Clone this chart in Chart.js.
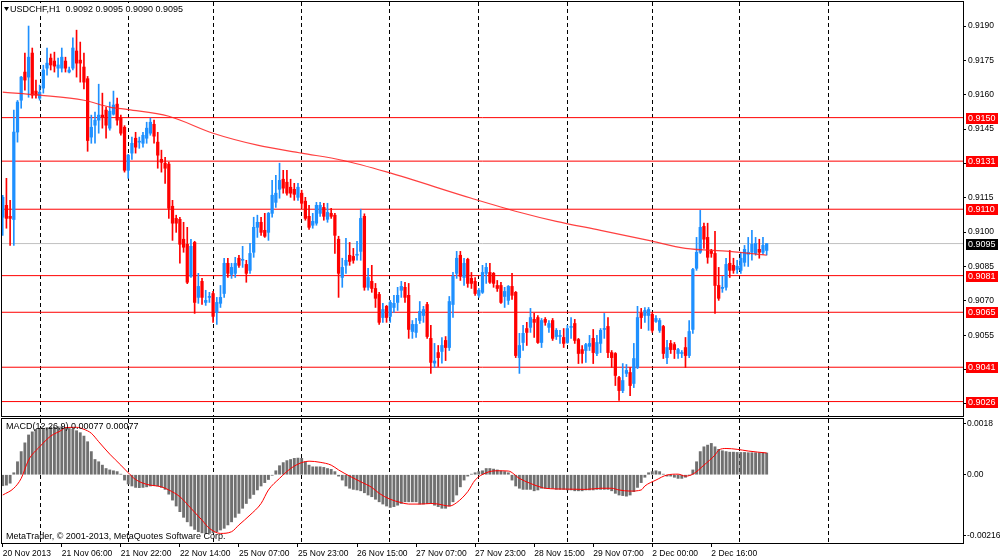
<!DOCTYPE html>
<html>
<head>
<meta charset="utf-8">
<title>USDCHF,H1</title>
<script src="https://cdn.jsdelivr.net/npm/chart.js@4.4.1/dist/chart.umd.min.js"></script>
<style>
  html, body { margin: 0; padding: 0; background: #fff; }
  #wrap { position: relative; width: 1000px; height: 560px; overflow: hidden; background: #fff; }
  canvas { position: absolute; left: 0; }
</style>
</head>
<body>
<div id="wrap">
  <canvas id="priceChart" width="1000" height="417" style="top:0"></canvas>
  <canvas id="macdChart" width="1000" height="143" style="top:417px"></canvas>
</div>
<script>
"use strict";
// time axis: one label every 16 hourly bars
const tickLabels = ["20 Nov 2013", "21 Nov 06:00", "21 Nov 22:00", "22 Nov 14:00", "25 Nov 07:00",
    "25 Nov 23:00", "26 Nov 15:00", "27 Nov 07:00", "27 Nov 23:00", "28 Nov 15:00",
    "29 Nov 07:00", "2 Dec 00:00", "2 Dec 16:00"];
const tickBars = [0, 16, 32, 48, 64, 80, 96, 112, 128, 144, 160, 176, 192];
const gridBars = [10.1, 34, 57, 80.8, 104.7, 128.8, 152.9, 176, 199.6, 223.7];
const priceTicks = [0.9190, 0.9175, 0.9160, 0.9145, 0.9130, 0.9115, 0.9100, 0.9085, 0.9070, 0.9055, 0.9040, 0.9025];
const levels = [0.9150, 0.9131, 0.9110, 0.9081, 0.9065, 0.9041, 0.9026];
const lastPrice = 0.9095;

// H1 candles, bar 0 .. 207
const openP = [
    0.91065, 0.91117, 0.91069, 0.91055, 0.91437, 0.91576, 0.91699, 0.91677, 0.91782, 0.91616,
    0.91585, 0.91629, 0.91716, 0.91760, 0.91747, 0.91716, 0.91716, 0.91747, 0.91699, 0.91716,
    0.91791, 0.91751, 0.91721, 0.91670, 0.91415, 0.91467, 0.91489, 0.91511, 0.91533, 0.91454,
    0.91515, 0.91559, 0.91498, 0.91458, 0.91270, 0.91345, 0.91410, 0.91393, 0.91388, 0.91410,
    0.91432, 0.91471, 0.91393, 0.91318, 0.91301, 0.91297, 0.91113, 0.91060, 0.91056, 0.90969,
    0.90947, 0.90807, 0.90955, 0.90715, 0.90785, 0.90693, 0.90715, 0.90732, 0.90649, 0.90689,
    0.90732, 0.90864, 0.90815, 0.90820, 0.90886, 0.90877, 0.90859, 0.90833, 0.90912, 0.91021,
    0.91043, 0.91008, 0.90999, 0.91082, 0.91130, 0.91187, 0.91231, 0.91218, 0.91196, 0.91187,
    0.91152, 0.91170, 0.91135, 0.91069, 0.91030, 0.91039, 0.91082, 0.91108, 0.91056, 0.91082,
    0.91074, 0.90969, 0.90802, 0.90855, 0.90899, 0.90894, 0.90899, 0.90916, 0.91069, 0.90759,
    0.90785, 0.90754, 0.90728, 0.90627, 0.90676, 0.90632, 0.90671, 0.90693, 0.90746, 0.90759,
    0.90724, 0.90566, 0.90562, 0.90614, 0.90636, 0.90684, 0.90536, 0.90428, 0.90474, 0.90479,
    0.90527, 0.90496, 0.90684, 0.90820, 0.90899, 0.90802, 0.90881, 0.90798, 0.90785, 0.90724,
    0.90737, 0.90820, 0.90824, 0.90820, 0.90767, 0.90767, 0.90719, 0.90702, 0.90763, 0.90737,
    0.90452, 0.90518, 0.90579, 0.90584, 0.90619, 0.90627, 0.90518, 0.90619, 0.90584, 0.90614,
    0.90544, 0.90544, 0.90540, 0.90518, 0.90584, 0.90601, 0.90531, 0.90487, 0.90483, 0.90501,
    0.90536, 0.90470, 0.90514, 0.90575, 0.90588, 0.90474, 0.90470, 0.90365, 0.90308, 0.90383,
    0.90387, 0.90339, 0.90409, 0.90645, 0.90636, 0.90636, 0.90641, 0.90610, 0.90571, 0.90588,
    0.90452, 0.90514, 0.90509, 0.90470, 0.90470, 0.90496, 0.90461, 0.90575, 0.90842, 0.90912,
    0.91025, 0.90977, 0.90916, 0.90907, 0.90767, 0.90754, 0.90759, 0.90864, 0.90855, 0.90837,
    0.90833, 0.90868, 0.90903, 0.90912, 0.90907, 0.90925, 0.90912, 0.90920
];
const highP = [
    0.91161, 0.91235, 0.91139, 0.91533, 0.91575, 0.91680, 0.91782, 0.91900, 0.91804, 0.91664,
    0.91642, 0.91729, 0.91804, 0.91778, 0.91786, 0.91760, 0.91804, 0.91764, 0.91721, 0.91848,
    0.91882, 0.91830, 0.91782, 0.91680, 0.91511, 0.91524, 0.91646, 0.91607, 0.91546, 0.91568,
    0.91616, 0.91585, 0.91511, 0.91465, 0.91340, 0.91415, 0.91436, 0.91415, 0.91436, 0.91480,
    0.91498, 0.91489, 0.91436, 0.91358, 0.91327, 0.91305, 0.91139, 0.91074, 0.91065, 0.91043,
    0.91021, 0.90969, 0.90960, 0.90820, 0.90798, 0.90746, 0.90737, 0.90741, 0.90715, 0.90767,
    0.90886, 0.90886, 0.90864, 0.90890, 0.90899, 0.90938, 0.90877, 0.90951, 0.91065, 0.91074,
    0.91065, 0.91082, 0.91086, 0.91226, 0.91248, 0.91301, 0.91270, 0.91270, 0.91231, 0.91213,
    0.91213, 0.91183, 0.91152, 0.91117, 0.91082, 0.91130, 0.91130, 0.91126, 0.91126, 0.91104,
    0.91082, 0.90982, 0.90886, 0.90973, 0.90955, 0.90929, 0.90960, 0.91100, 0.91080, 0.90842,
    0.90855, 0.90776, 0.90737, 0.90689, 0.90680, 0.90702, 0.90724, 0.90759, 0.90785, 0.90781,
    0.90776, 0.90614, 0.90623, 0.90697, 0.90676, 0.90693, 0.90593, 0.90514, 0.90505, 0.90540,
    0.90544, 0.90719, 0.90824, 0.90916, 0.90916, 0.90886, 0.90886, 0.90824, 0.90802, 0.90754,
    0.90855, 0.90864, 0.90864, 0.90824, 0.90789, 0.90781, 0.90759, 0.90767, 0.90820, 0.90741,
    0.90558, 0.90593, 0.90606, 0.90667, 0.90645, 0.90636, 0.90623, 0.90627, 0.90614, 0.90623,
    0.90579, 0.90571, 0.90579, 0.90593, 0.90627, 0.90619, 0.90536, 0.90505, 0.90514, 0.90549,
    0.90575, 0.90549, 0.90579, 0.90645, 0.90627, 0.90483, 0.90474, 0.90370, 0.90426, 0.90422,
    0.90409, 0.90514, 0.90676, 0.90667, 0.90671, 0.90671, 0.90649, 0.90636, 0.90623, 0.90593,
    0.90527, 0.90527, 0.90518, 0.90492, 0.90483, 0.90540, 0.90614, 0.90842, 0.90977, 0.91095,
    0.91039, 0.91039, 0.90925, 0.91003, 0.90846, 0.90807, 0.90886, 0.90920, 0.90886, 0.90877,
    0.90912, 0.90942, 0.90977, 0.91008, 0.90977, 0.90969, 0.90977, 0.90950
];
const lowP = [
    0.90986, 0.91017, 0.90942, 0.90942, 0.91393, 0.91541, 0.91620, 0.91589, 0.91585, 0.91585,
    0.91576, 0.91607, 0.91686, 0.91708, 0.91699, 0.91677, 0.91699, 0.91699, 0.91695, 0.91708,
    0.91677, 0.91655, 0.91625, 0.91353, 0.91388, 0.91388, 0.91432, 0.91454, 0.91410, 0.91445,
    0.91511, 0.91467, 0.91423, 0.91262, 0.91235, 0.91318, 0.91345, 0.91366, 0.91371, 0.91388,
    0.91423, 0.91388, 0.91279, 0.91262, 0.91213, 0.91060, 0.90964, 0.90999, 0.90864, 0.90912,
    0.90775, 0.90802, 0.90645, 0.90689, 0.90684, 0.90680, 0.90693, 0.90606, 0.90597, 0.90671,
    0.90715, 0.90802, 0.90798, 0.90802, 0.90846, 0.90846, 0.90781, 0.90820, 0.90890, 0.90977,
    0.90986, 0.90977, 0.90964, 0.91065, 0.91108, 0.91148, 0.91170, 0.91161, 0.91152, 0.91139,
    0.91139, 0.91104, 0.91052, 0.91012, 0.91017, 0.91030, 0.91069, 0.91052, 0.91043, 0.91060,
    0.90907, 0.90715, 0.90759, 0.90820, 0.90855, 0.90864, 0.90877, 0.90877, 0.90746, 0.90746,
    0.90737, 0.90671, 0.90597, 0.90606, 0.90606, 0.90606, 0.90649, 0.90658, 0.90715, 0.90693,
    0.90536, 0.90536, 0.90540, 0.90601, 0.90606, 0.90536, 0.90383, 0.90409, 0.90413, 0.90428,
    0.90439, 0.90483, 0.90627, 0.90798, 0.90789, 0.90767, 0.90759, 0.90754, 0.90724, 0.90715,
    0.90732, 0.90776, 0.90776, 0.90759, 0.90741, 0.90689, 0.90671, 0.90684, 0.90706, 0.90452,
    0.90383, 0.90483, 0.90505, 0.90562, 0.90540, 0.90514, 0.90496, 0.90593, 0.90562, 0.90527,
    0.90531, 0.90514, 0.90496, 0.90514, 0.90536, 0.90514, 0.90426, 0.90428, 0.90431, 0.90483,
    0.90426, 0.90461, 0.90474, 0.90536, 0.90452, 0.90409, 0.90330, 0.90265, 0.90299, 0.90369,
    0.90286, 0.90321, 0.90404, 0.90579, 0.90606, 0.90571, 0.90562, 0.90606, 0.90562, 0.90448,
    0.90426, 0.90470, 0.90448, 0.90448, 0.90452, 0.90409, 0.90452, 0.90558, 0.90833, 0.90907,
    0.90929, 0.90864, 0.90890, 0.90645, 0.90702, 0.90737, 0.90746, 0.90802, 0.90820, 0.90820,
    0.90820, 0.90851, 0.90850, 0.90877, 0.90899, 0.90886, 0.90903, 0.90900
];
const closeP = [
    0.91152, 0.91060, 0.91060, 0.91437, 0.91568, 0.91677, 0.91664, 0.91764, 0.91598, 0.91598,
    0.91611, 0.91708, 0.91738, 0.91730, 0.91725, 0.91730, 0.91764, 0.91716, 0.91708, 0.91804,
    0.91738, 0.91738, 0.91655, 0.91400, 0.91458, 0.91489, 0.91511, 0.91502, 0.91467, 0.91528,
    0.91555, 0.91489, 0.91432, 0.91270, 0.91336, 0.91388, 0.91371, 0.91397, 0.91423, 0.91454,
    0.91480, 0.91419, 0.91336, 0.91305, 0.91279, 0.91104, 0.91039, 0.91039, 0.90947, 0.90934,
    0.90781, 0.90938, 0.90693, 0.90763, 0.90715, 0.90702, 0.90719, 0.90632, 0.90693, 0.90715,
    0.90864, 0.90820, 0.90846, 0.90864, 0.90855, 0.90881, 0.90820, 0.90907, 0.91021, 0.91043,
    0.90999, 0.90982, 0.91082, 0.91161, 0.91170, 0.91226, 0.91192, 0.91170, 0.91170, 0.91165,
    0.91196, 0.91126, 0.91060, 0.91021, 0.91047, 0.91117, 0.91117, 0.91069, 0.91086, 0.91069,
    0.90986, 0.90820, 0.90846, 0.90877, 0.90872, 0.90877, 0.90903, 0.91060, 0.90759, 0.90802,
    0.90754, 0.90711, 0.90606, 0.90662, 0.90627, 0.90693, 0.90689, 0.90724, 0.90763, 0.90715,
    0.90575, 0.90597, 0.90597, 0.90654, 0.90662, 0.90544, 0.90431, 0.90437, 0.90452, 0.90505,
    0.90496, 0.90697, 0.90807, 0.90886, 0.90807, 0.90864, 0.90776, 0.90776, 0.90732, 0.90746,
    0.90824, 0.90846, 0.90781, 0.90776, 0.90754, 0.90693, 0.90741, 0.90763, 0.90724, 0.90461,
    0.90505, 0.90558, 0.90562, 0.90627, 0.90606, 0.90518, 0.90614, 0.90606, 0.90601, 0.90536,
    0.90571, 0.90549, 0.90514, 0.90579, 0.90588, 0.90527, 0.90470, 0.90470, 0.90509, 0.90514,
    0.90474, 0.90518, 0.90571, 0.90579, 0.90474, 0.90452, 0.90374, 0.90308, 0.90352, 0.90396,
    0.90330, 0.90448, 0.90627, 0.90627, 0.90658, 0.90662, 0.90571, 0.90623, 0.90614, 0.90470,
    0.90496, 0.90487, 0.90487, 0.90487, 0.90474, 0.90461, 0.90566, 0.90837, 0.90912, 0.91021,
    0.90969, 0.90890, 0.90907, 0.90767, 0.90711, 0.90759, 0.90859, 0.90833, 0.90833, 0.90851,
    0.90886, 0.90925, 0.90912, 0.90947, 0.90951, 0.90912, 0.90942, 0.90950
];

// moving average read at a few bars
const maBars = [0, 10, 22, 29, 34, 45, 57, 69, 81, 92, 104, 127, 140, 150, 162, 175, 185, 197, 207];
const maValues = [0.91611, 0.91598, 0.91576, 0.91546, 0.91535, 0.91506, 0.91432, 0.91380, 0.91345, 0.91314,
    0.91263, 0.91148, 0.91087, 0.91047, 0.91008, 0.90964, 0.90929, 0.90916, 0.90899];

// MACD(12,26,9) histogram, one per bar
const macdHist = [
    -0.00039, -0.00037, -0.00030, 0.00007, 0.00046, 0.00082, 0.00113, 0.00141, 0.00152, 0.00161,
    0.00164, 0.00164, 0.00167, 0.00168, 0.00168, 0.00170, 0.00170, 0.00168, 0.00164, 0.00161,
    0.00156, 0.00149, 0.00137, 0.00117, 0.00082, 0.00054, 0.00046, 0.00034, 0.00022, 0.00017,
    0.00014, 0.00011, 0.00002, -0.00019, -0.00033, -0.00040, -0.00045, -0.00046, -0.00045, -0.00043,
    -0.00040, -0.00039, -0.00040, -0.00045, -0.00052, -0.00069, -0.00090, -0.00111, -0.00131, -0.00151,
    -0.00167, -0.00182, -0.00194, -0.00202, -0.00206, -0.00208, -0.00208, -0.00206, -0.00202, -0.00196,
    -0.00190, -0.00178, -0.00167, -0.00151, -0.00137, -0.00119, -0.00102, -0.00084, -0.00070, -0.00054,
    -0.00040, -0.00028, -0.00017, -0.00002, 0.00014, 0.00032, 0.00043, 0.00050, 0.00054, 0.00058,
    0.00059, 0.00058, 0.00046, 0.00034, 0.00028, 0.00028, 0.00028, 0.00026, 0.00022, 0.00019,
    0.00011, -0.00005, -0.00019, -0.00040, -0.00048, -0.00052, -0.00054, -0.00057, -0.00064, -0.00072,
    -0.00078, -0.00087, -0.00096, -0.00104, -0.00111, -0.00116, -0.00113, -0.00108, -0.00102, -0.00096,
    -0.00096, -0.00096, -0.00096, -0.00104, -0.00104, -0.00102, -0.00102, -0.00108, -0.00113, -0.00119,
    -0.00119, -0.00111, -0.00096, -0.00072, -0.00043, -0.00019, -0.00005, 0.00002, 0.00007, 0.00011,
    0.00014, 0.00022, 0.00022, 0.00020, 0.00017, 0.00013, 0.00011, 0.00007, -0.00019, -0.00040,
    -0.00048, -0.00052, -0.00052, -0.00052, -0.00057, -0.00054, -0.00048, -0.00048, -0.00048, -0.00048,
    -0.00052, -0.00052, -0.00052, -0.00054, -0.00054, -0.00057, -0.00057, -0.00057, -0.00054, -0.00054,
    -0.00054, -0.00052, -0.00052, -0.00052, -0.00052, -0.00057, -0.00066, -0.00072, -0.00074, -0.00076,
    -0.00072, -0.00060, -0.00045, -0.00028, -0.00009, 0.00007, 0.00011, 0.00014, 0.00011, 0.00002,
    -0.00005, -0.00005, -0.00009, -0.00013, -0.00013, -0.00009, -0.00001, 0.00017, 0.00046, 0.00082,
    0.00099, 0.00105, 0.00111, 0.00099, 0.00090, 0.00085, 0.00082, 0.00080, 0.00080, 0.00079,
    0.00079, 0.00079, 0.00078, 0.00078, 0.00078, 0.00078, 0.00078, 0.00077
];
// signal line read at a few bars
const signalBars = [0, 3, 5, 7, 10, 13, 16, 17, 20, 22, 24, 26, 29, 32, 34, 36, 39, 43, 45, 48,
    51, 54, 56, 59, 62, 64, 67, 70, 72, 75, 78, 81, 83, 86, 89, 91, 94, 97, 100, 102,
    105, 108, 110, 113, 116, 118, 121, 123, 126, 128, 131, 134, 137, 140, 143, 146, 147, 153, 158, 162,
    165, 167, 170, 173, 174, 177, 180, 183, 185, 187, 190, 193, 194, 196, 199, 202, 207];
const signalValues = [-0.00072, -0.00048, -0.00013, 0.00052, 0.00099, 0.00137, 0.00158, 0.00167, 0.00168, 0.00161,
    0.00147, 0.00117, 0.00073, 0.00034, 0.00007, -0.00017, -0.00034, -0.00043, -0.00054, -0.00078,
    -0.00119, -0.00161, -0.00190, -0.00208, -0.00202, -0.00178, -0.00143, -0.00102, -0.00054, -0.00013,
    0.00022, 0.00043, 0.00048, 0.00044, 0.00034, 0.00017, -0.00005, -0.00025, -0.00045, -0.00066,
    -0.00087, -0.00099, -0.00104, -0.00104, -0.00102, -0.00104, -0.00111, -0.00099, -0.00060, -0.00019,
    0.00007, 0.00014, 0.00013, -0.00013, -0.00031, -0.00045, -0.00048, -0.00051, -0.00052, -0.00048,
    -0.00048, -0.00054, -0.00058, -0.00054, -0.00040, -0.00019, -0.00001, 0.00002, -0.00005, 0.00002,
    0.00034, 0.00070, 0.00087, 0.00093, 0.00090, 0.00084, 0.00077];
const macdTicks = [0.0018, 0, -0.00216];

const BULL = '#1e90ff';
const BEAR = '#ff0000';
const FONT = '"Liberation Sans", Arial, sans-serif';
const X_MIN = -0.2, X_MAX = 260.2;

function candleColor(ctx) {
    const i = ctx.dataIndex;
    return closeP[i] >= openP[i] ? BULL : BEAR;
}

// right axes: fixed width and no extra room for half labels
function fitRightAxis(s) {
    s.width = 37;
    s.paddingTop = 0;
    s.paddingBottom = 0;
}

function drawVerticalGrid(chart) {
    const { ctx, chartArea: a, scales: { x } } = chart;
    ctx.save();
    ctx.beginPath();
    ctx.rect(a.left, a.top, a.right - a.left, a.bottom - a.top);
    ctx.clip();
    ctx.strokeStyle = '#000';
    ctx.lineWidth = 1;
    ctx.setLineDash([4, 3]);
    gridBars.forEach(b => {
        const px = Math.round(x.getPixelForValue(b)) + 0.5;
        ctx.beginPath();
        ctx.moveTo(px, a.top);
        ctx.lineTo(px, a.bottom);
        ctx.stroke();
    });
    ctx.restore();
}

function drawFrame(chart) {
    const { ctx, chartArea: a } = chart;
    ctx.save();
    ctx.strokeStyle = '#000';
    ctx.lineWidth = 1;
    ctx.strokeRect(a.left - 0.5, a.top - 0.5, a.right - a.left + 1, a.bottom - a.top + 1);
    ctx.restore();
}

function priceBox(ctx, y, text, fill) {
    const yy = Math.round(y);
    ctx.fillStyle = fill;
    ctx.fillRect(966, yy - 5, 32, 11);
    ctx.fillStyle = '#fff';
    ctx.font = '9px ' + FONT;
    ctx.textBaseline = 'middle';
    ctx.textAlign = 'left';
    ctx.fillText(text, 968, yy + 0.5);
}

const whiteBg = {
    id: 'whiteBg',
    beforeDraw(chart) {
        const ctx = chart.ctx;
        ctx.save();
        ctx.fillStyle = '#fff';
        ctx.fillRect(0, 0, chart.width, chart.height);
        ctx.restore();
    }
};

const priceDecor = {
    id: 'priceDecor',
    beforeDatasetsDraw(chart) {
        const { ctx, chartArea: a, scales: { y } } = chart;
        drawVerticalGrid(chart);
        ctx.save();
        ctx.lineWidth = 1;
        ctx.strokeStyle = '#c0c0c0';
        let py = y.getPixelForValue(lastPrice);
        ctx.beginPath();
        ctx.moveTo(a.left, py);
        ctx.lineTo(a.right, py);
        ctx.stroke();
        ctx.strokeStyle = '#ff0000';
        levels.forEach(v => {
            py = y.getPixelForValue(v);
            ctx.beginPath();
            ctx.moveTo(a.left, py);
            ctx.lineTo(a.right, py);
            ctx.stroke();
        });
        ctx.restore();
    },
    afterDraw(chart) {
        const { ctx, scales: { y } } = chart;
        drawFrame(chart);
        ctx.save();
        levels.forEach(v => priceBox(ctx, y.getPixelForValue(v), v.toFixed(4), '#ff0000'));
        priceBox(ctx, y.getPixelForValue(lastPrice), lastPrice.toFixed(4), '#000');
        // symbol caption with the last bar's OHLC
        const n = openP.length - 1;
        ctx.fillStyle = '#fff';
        ctx.fillRect(3, 3, 182, 12);
        ctx.fillStyle = '#000';
        ctx.beginPath();
        ctx.moveTo(4, 7);
        ctx.lineTo(9, 7);
        ctx.lineTo(6.5, 11);
        ctx.closePath();
        ctx.fill();
        ctx.font = '9px ' + FONT;
        ctx.textBaseline = 'middle';
        ctx.textAlign = 'left';
        ctx.fillText('USDCHF,H1  ' + [openP[n], highP[n], lowP[n], closeP[n]].map(v => v.toFixed(4)).join(' '), 10, 9.5);
        ctx.restore();
    }
};

const macdDecor = {
    id: 'macdDecor',
    beforeDatasetsDraw(chart) {
        drawVerticalGrid(chart);
    },
    afterDraw(chart) {
        const ctx = chart.ctx;
        drawFrame(chart);
        ctx.save();
        ctx.fillStyle = '#000';
        ctx.font = '9px ' + FONT;
        ctx.textBaseline = 'middle';
        ctx.textAlign = 'left';
        const n = macdHist.length - 1;
        ctx.fillText('MACD(12,26,9) ' + macdHist[n].toFixed(5) + ' ' + signalValues[signalValues.length - 1].toFixed(5), 6, 9.5);
        ctx.fillText('MetaTrader, \u00a9 2001-2013, MetaQuotes Software Corp.', 6, 120);
        ctx.restore();
    }
};

const priceCanvas = document.getElementById('priceChart');
const priceChart = new Chart(priceCanvas, {
    type: 'bar',
    data: {
        datasets: [{
            type: 'line',
            label: 'MA',
            data: maBars.map((b, i) => ({ x: b, y: maValues[i] })),
            borderColor: 'rgba(255, 30, 30, 0.85)',
            borderWidth: 1.2,
            pointRadius: 0,
            cubicInterpolationMode: 'monotone',
            order: 0
        }, {
            label: 'body',
            data: openP.map((o, i) => ({ x: i, y: [o, closeP[i]] })),
            backgroundColor: candleColor,
            barThickness: 2.6,
            minBarLength: 1,
            grouped: false,
            order: 1
        }, {
            label: 'wick',
            data: lowP.map((l, i) => ({ x: i, y: [l, highP[i]] })),
            backgroundColor: candleColor,
            barThickness: 1,
            grouped: false,
            order: 2
        }]
    },
    options: {
        responsive: false,
        animation: false,
        events: [],
        layout: { padding: { left: 2, top: 2, right: 0, bottom: 1 } },
        plugins: { legend: { display: false }, tooltip: { enabled: false } },
        scales: {
            x: { type: 'linear', min: X_MIN, max: X_MAX, offset: false, display: false },
            y: {
                type: 'linear',
                position: 'right',
                min: 0.90197,
                max: 0.92005,
                afterFit: fitRightAxis,
                afterBuildTicks: s => { s.ticks = priceTicks.map(v => ({ value: v })); },
                ticks: {
                    callback: v => v.toFixed(4),
                    color: '#000',
                    font: { family: FONT, size: 8.5 },
                    padding: 2,
                    autoSkip: false
                },
                grid: { drawOnChartArea: false, drawTicks: true, tickLength: 3, color: '#000' },
                border: { display: false }
            }
        }
    },
    plugins: [whiteBg, priceDecor]
});

const macdCanvas = document.getElementById('macdChart');
const macdChart = new Chart(macdCanvas, {
    type: 'bar',
    data: {
        datasets: [{
            type: 'line',
            label: 'Signal',
            data: signalBars.map((b, i) => ({ x: b, y: signalValues[i] })),
            borderColor: '#ff0000',
            borderWidth: 1,
            pointRadius: 0,
            cubicInterpolationMode: 'monotone',
            order: 0
        }, {
            label: 'MACD',
            data: macdHist.map((v, i) => ({ x: i, y: v })),
            backgroundColor: '#707070',
            barThickness: 2.2,
            order: 1
        }]
    },
    options: {
        responsive: false,
        animation: false,
        events: [],
        layout: { padding: { left: 2, top: 2, right: 0, bottom: 0 } },
        plugins: { legend: { display: false }, tooltip: { enabled: false } },
        scales: {
            x: {
                type: 'linear',
                min: X_MIN,
                max: X_MAX,
                offset: false,
                position: 'bottom',
                afterFit: s => { s.height = 17; s.paddingLeft = 0; s.paddingRight = 0; },
                afterBuildTicks: s => { s.ticks = tickBars.map(v => ({ value: v })); },
                ticks: {
                    autoSkip: false,
                    maxRotation: 0,
                    align: 'start',
                    padding: 2,
                    color: '#000',
                    font: { family: FONT, size: 8.5 },
                    callback: (v, i) => tickLabels[i]
                },
                grid: { drawOnChartArea: false, drawTicks: true, tickLength: 4, color: '#000', offset: false },
                border: { display: false }
            },
            y: {
                type: 'linear',
                position: 'right',
                min: -0.00242,
                max: 0.001975,
                afterFit: fitRightAxis,
                afterBuildTicks: s => { s.ticks = macdTicks.map(v => ({ value: v })); },
                ticks: {
                    callback: v => (v === 0 ? '0.00' : String(v)),
                    color: '#000',
                    font: { family: FONT, size: 8.5 },
                    padding: 1,
                    autoSkip: false
                },
                grid: { drawOnChartArea: false, drawTicks: true, tickLength: 3, color: '#000' },
                border: { display: false }
            }
        }
    },
    plugins: [whiteBg, macdDecor]
});
</script>
</body>
</html>
